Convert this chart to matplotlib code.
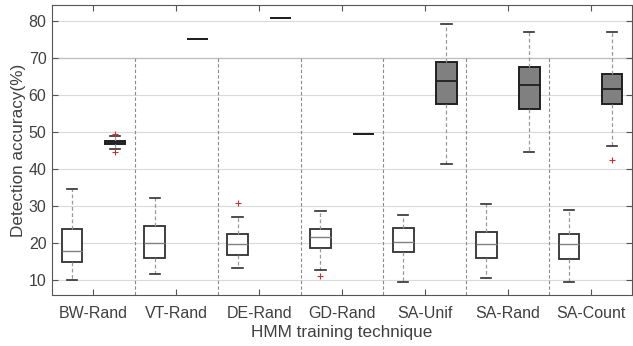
import matplotlib
matplotlib.use("Agg")
import matplotlib.pyplot as plt

plt.rcParams['font.family'] = ['Liberation Sans', 'DejaVu Sans']

techniques = ["BW-Rand", "VT-Rand", "DE-Rand", "GD-Rand", "SA-Unif", "SA-Rand", "SA-Count"]

# Detection accuracy (%) summaries: white boxes (first series)
white_whislo = [10.0, 11.7, 13.4, 12.8, 9.5, 10.6, 9.5]
white_q1     = [14.8, 16.0, 16.9, 18.6, 17.6, 16.1, 15.8]
white_med    = [18.0, 20.0, 19.7, 21.7, 20.2, 19.8, 19.8]
white_q3     = [23.8, 24.5, 22.4, 23.8, 24.1, 22.9, 22.4]
white_whishi = [34.7, 32.2, 27.1, 28.8, 27.6, 30.5, 29.0]
white_fliers = [[], [], [30.9], [11.0], [], [], []]

# Detection accuracy (%) summaries: gray boxes (second series)
gray_whislo = [45.4, 75.0, 80.8, 49.6, 41.3, 44.7, 46.3]
gray_q1     = [46.8, 75.0, 80.8, 49.6, 57.5, 56.3, 57.5]
gray_med    = [47.2, 75.0, 80.8, 49.6, 63.8, 62.6, 61.5]
gray_q3     = [47.6, 75.0, 80.8, 49.6, 68.9, 67.5, 65.7]
gray_whishi = [49.0, 75.0, 80.8, 49.6, 79.1, 76.9, 76.9]
gray_fliers = [[49.6, 44.7], [], [], [], [], [], [42.4]]

yticks = [10, 20, 30, 40, 50, 60, 70, 80]


def stats(lo, q1, med, q3, hi, fl):
    return [dict(whislo=a, q1=b, med=c, q3=d, whishi=e, fliers=f)
            for a, b, c, d, e, f in zip(lo, q1, med, q3, hi, fl)]


fig = plt.figure(figsize=(6.33, 3.46), dpi=100)
ax = fig.add_axes([52 / 633, 1 - 295 / 346, 580 / 633, 290 / 346])

n = len(techniques)
pos = list(range(1, n + 1))
off = 0.26
width = 0.25

for y in yticks:
    ax.axhline(y, color="#dadada", lw=0.8, zorder=0)
ax.axhline(70, color="#bdbdbd", lw=0.9, zorder=0)

# dashed separators between techniques
for k in range(1, n):
    ax.plot([k + 0.5, k + 0.5], [0, 70], color="#8a8a8a", lw=0.8,
            ls=(0, (3, 2)), zorder=1)

common = dict(widths=width, patch_artist=True, manage_ticks=False,
              whiskerprops=dict(color="#9a9a9a", lw=0.9, ls=(0, (3, 2))),
              capprops=dict(color="#303030", lw=1.2),
              flierprops=dict(marker="+", markeredgecolor="#d03030",
                              markersize=4, markeredgewidth=0.8))

ax.bxp(stats(white_whislo, white_q1, white_med, white_q3, white_whishi, white_fliers),
       positions=[p - off for p in pos],
       boxprops=dict(facecolor="white", edgecolor="#303030", lw=1.3),
       medianprops=dict(color="#808080", lw=1.0),
       **common)

ax.bxp(stats(gray_whislo, gray_q1, gray_med, gray_q3, gray_whishi, gray_fliers),
       positions=[p + off for p in pos],
       boxprops=dict(facecolor="#808080", edgecolor="#202020", lw=1.4),
       medianprops=dict(color="#202020", lw=1.3),
       **common)

ax.set_xlim(0.5, n + 0.5)
ax.set_ylim(6, 84.3)
ax.set_xticks(pos)
ax.set_xticklabels(techniques)
ax.set_yticks(yticks)
ax.tick_params(axis="both", direction="in", length=4, color="#555555",
               labelcolor="#404040", labelsize=11.5, top=True, right=True)
ax.tick_params(axis="x", pad=8)
ax.tick_params(axis="y", pad=4)
for s in ax.spines.values():
    s.set_color("#555555")
    s.set_linewidth(0.8)

ax.set_xlabel("HMM training technique", fontsize=12.3, color="#404040", labelpad=3)
ax.set_ylabel("Detection accuracy(%)", fontsize=12.3, color="#404040", labelpad=2)

fig.savefig("out.png", dpi=100)
